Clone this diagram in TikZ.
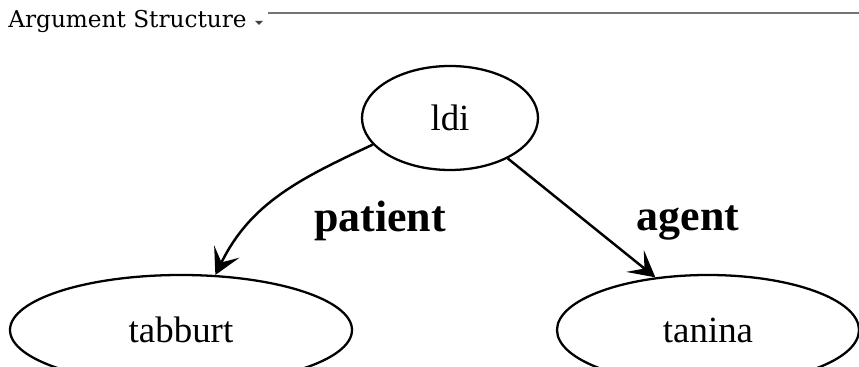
\documentclass[tikz,border=0pt]{standalone}
\usepackage{fontspec}
\setmainfont{Liberation Serif}
\newfontfamily\titlefont{DejaVu Serif}
\usetikzlibrary{arrows.meta,shapes.geometric}
\begin{document}
\begin{tikzpicture}[
    argnode/.style={draw, ellipse, line width=1.3pt, inner sep=0pt, font=\fontsize{21}{24}\selectfont},
    rolelabel/.style={font=\fontsize{25}{28}\selectfont\bfseries, anchor=base},
    rolearrow/.style={line width=1.4pt, -{Stealth[length=5.2mm, width=5.6mm, inset=2.4mm]}}]
\clip (0,0) rectangle (17.18,7.34);
\fill[white] (0,0) rectangle (17.18,7.34);
% header
\node[anchor=base west, inner sep=0pt, font=\titlefont\fontsize{13.2}{15}\selectfont] (title) at (0.16,6.78) {Argument Structure};
\coordinate (tri) at (5.18,6.92);
\fill[black!75] ([xshift=-0.08cm]tri) -- ([xshift=0.08cm]tri) -- ([yshift=-0.08cm]tri) -- cycle;
\coordinate (rulestart) at (5.36,7.08);
\coordinate (ruleend) at (17.18,7.08);
\draw[black!55, line width=0.8pt] (rulestart) -- (ruleend);
% nodes
\node[argnode, minimum width=3.52cm, minimum height=2.08cm] (ldi) at (9.0,4.98) {ldi};
\node[argnode, minimum width=6.84cm, minimum height=2.2cm] (tabburt) at (3.62,0.74) {tabburt};
\node[argnode, minimum width=6.04cm, minimum height=2.2cm] (tanina) at (14.16,0.74) {tanina};
% edges
\draw[rolearrow] (ldi.199) to[out=205, in=64] (tabburt.58);
\draw[rolearrow] (ldi.-35) -- (tanina.135);
\node[rolelabel] (patient) at (7.6,2.7) {patient};
\node[rolelabel] (agent) at (13.76,2.72) {agent};
\end{tikzpicture}
\end{document}
